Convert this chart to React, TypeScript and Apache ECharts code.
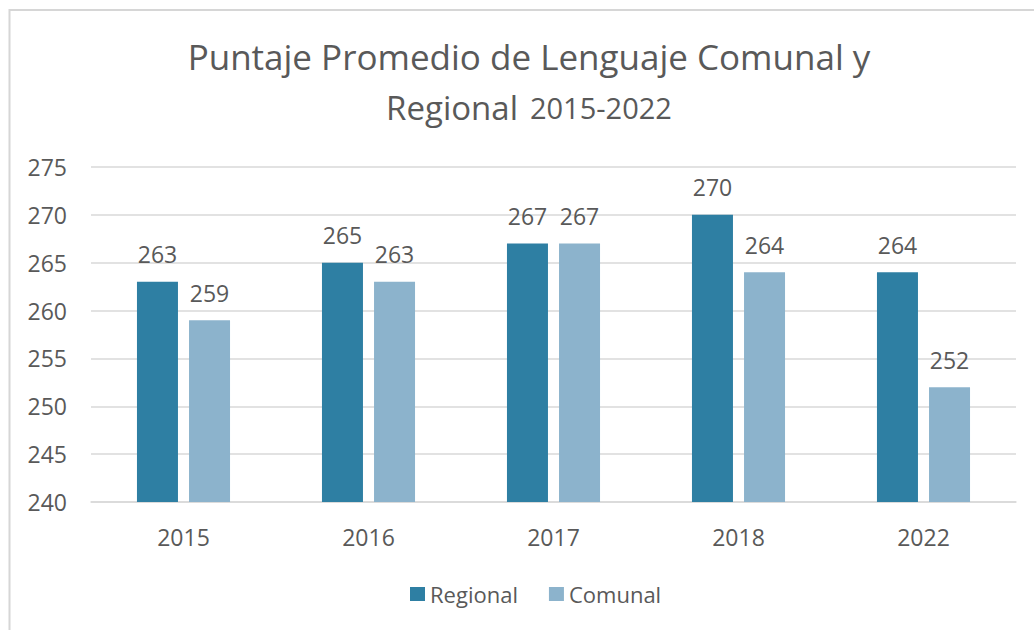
import React, { useEffect, useRef } from "react";
import * as echarts from "echarts";

const categories = ["2015", "2016", "2017", "2018", "2022"];
const regional = [263, 265, 267, 270, 264];
const comunal = [259, 263, 267, 264, 252];
const seriesNames = ["Regional", "Comunal"];
const titleLine1 = "Puntaje Promedio de Lenguaje Comunal y";
const titleLine2a = "Regional";
const titleLine2b = "2015-2022";

const FONT = "'Open Sans', sans-serif";
const TEXT = "#595959";

export default function App() {
  const ref = useRef<HTMLDivElement>(null);
  useEffect(() => {
    if (!ref.current) return;
    const chart = echarts.init(ref.current, null, { renderer: "svg" });
    chart.setOption({
      animation: false,
      backgroundColor: "#ffffff",
      graphic: [
        {
          type: "rect",
          shape: { x: 9.5, y: 10, width: 1100, height: 700 },
          style: { fill: "none", stroke: "#d6d6d6", lineWidth: 2 },
          silent: true,
          z: -10,
        },
        {
          type: "text",
          x: 529,
          y: 31,
          silent: true,
          style: {
            text: `{a|${titleLine1}}\n{r|${titleLine2a}}{b|${titleLine2b}}`,
            align: "center",
            textAlign: "center",
            verticalAlign: "top",
            textVerticalAlign: "top",
            fill: TEXT,
            rich: {
              a: { fontFamily: FONT, fontSize: 35, lineHeight: 51, fill: TEXT, color: TEXT },
              r: { fontFamily: FONT, fontSize: 33, lineHeight: 51, fill: TEXT, color: TEXT },
              b: { fontFamily: FONT, fontSize: 29, lineHeight: 51, fill: TEXT, color: TEXT, padding: [0, 0, 0, 12] },
            },
          },
        },
      ],
      legend: {
        data: seriesNames,
        left: 405,
        top: 578,
        icon: "rect",
        itemWidth: 15,
        itemHeight: 14,
        itemGap: 31,
        textStyle: { fontFamily: FONT, fontSize: 22, color: TEXT },
      },
      grid: { left: 91, top: 167, width: 925, height: 335, containLabel: false },
      xAxis: {
        type: "category",
        data: categories,
        axisLine: { show: true, lineStyle: { color: "#d9d9d9", width: 1.5 } },
        axisTick: { show: false },
        axisLabel: { fontFamily: FONT, fontSize: 23, color: TEXT, margin: 23 },
      },
      yAxis: {
        type: "value",
        min: 240,
        max: 275,
        interval: 5,
        axisLine: { show: false },
        axisTick: { show: false },
        splitLine: { lineStyle: { color: "#d9d9d9", width: 1.5 } },
        axisLabel: { fontFamily: FONT, fontSize: 23, color: TEXT, margin: 24 },
      },
      series: [
        {
          name: seriesNames[0],
          type: "bar",
          data: regional,
          barWidth: 41,
          barGap: "27%",
          itemStyle: { color: "#2e7fa3" },
          label: { show: true, position: "top", distance: 16, fontFamily: FONT, fontSize: 23, color: TEXT },
        },
        {
          name: seriesNames[1],
          type: "bar",
          data: comunal,
          barWidth: 41,
          barGap: "27%",
          itemStyle: { color: "#8cb3cc" },
          label: { show: true, position: "top", distance: 16, fontFamily: FONT, fontSize: 23, color: TEXT },
        },
      ],
    });
    return () => chart.dispose();
  }, []);
  return (
    <div
      ref={ref}
      style={{ position: "absolute", left: 0, top: 0, width: 1034, height: 630 }}
    />
  );
}
